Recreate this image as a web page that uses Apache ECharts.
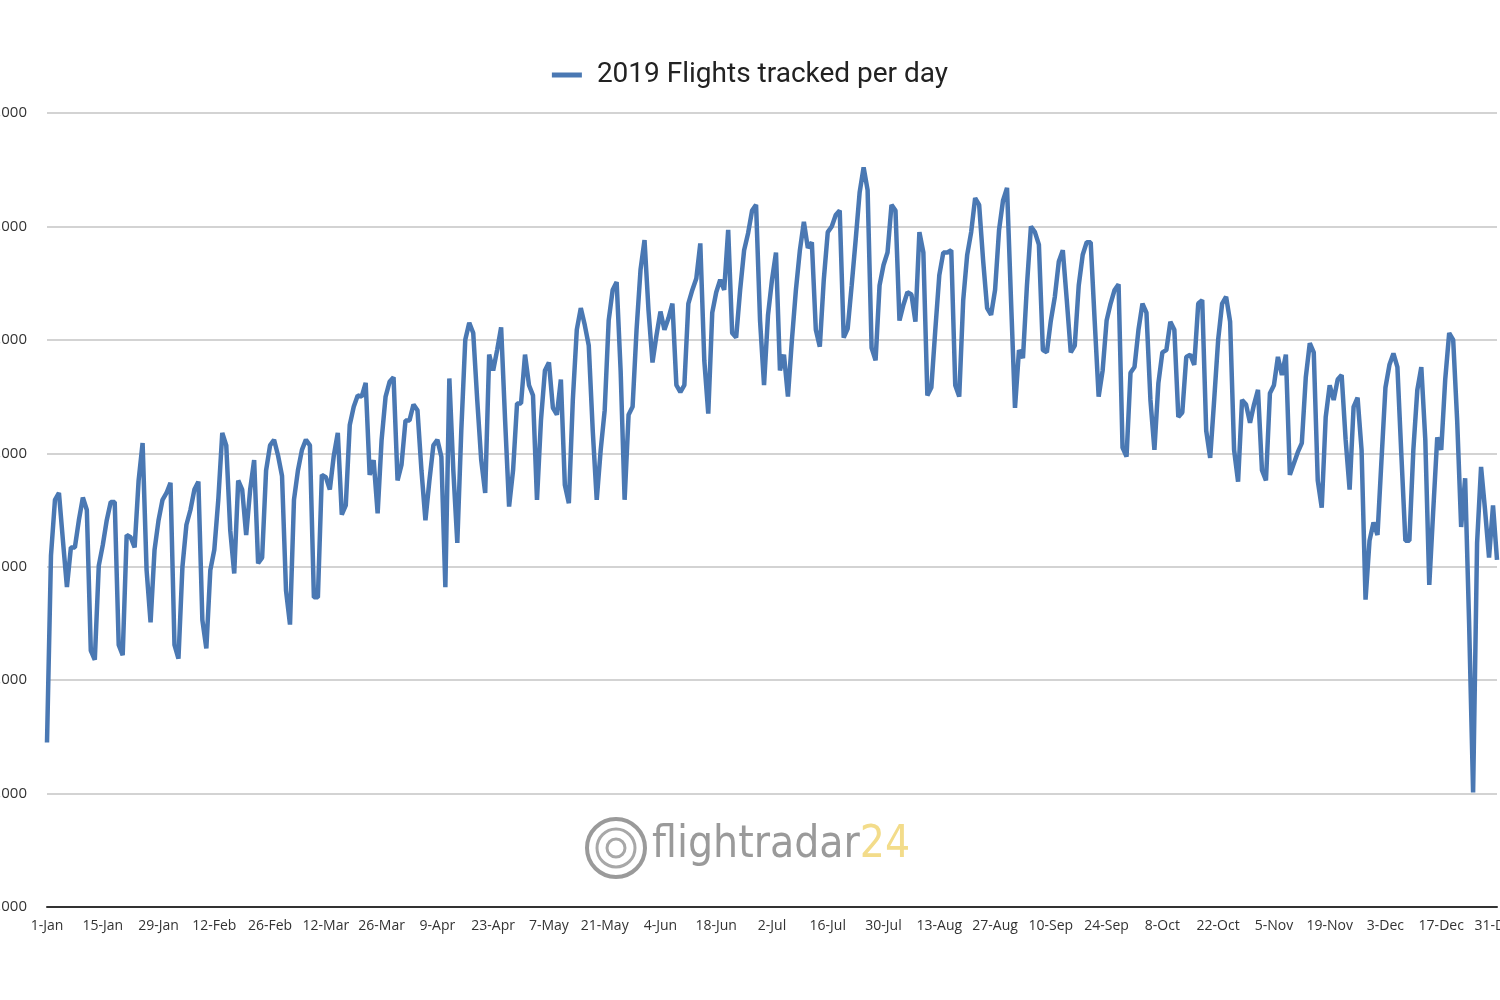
<!DOCTYPE html>
<html>
<head>
<meta charset="utf-8">
<title>2019 Flights tracked per day</title>
<script src="https://cdn.jsdelivr.net/npm/echarts@6/dist/echarts.min.js"></script>
<style>
  html, body { margin: 0; padding: 0; background: #fff; }
  #chart { width: 1500px; height: 1000px; }
</style>
</head>
<body>
<div id="chart"></div>
<script>
// 月份和天数
const monthNames = ['Jan', 'Feb', 'Mar', 'Apr', 'May', 'Jun', 'Jul', 'Aug', 'Sep', 'Oct', 'Nov', 'Dec'];
const monthDays = [31, 28, 31, 30, 31, 30, 31, 31, 30, 31, 30, 31];

// 每日航班数（按月）
const jan = [174500, 191000, 195900, 196500, 192300, 188200, 191700, 191700, 194100, 196100, 195000, 182600, 181800, 190100, 191900, 194100, 195700, 195700, 183100, 182200, 192800, 192600, 191700, 197600, 200900, 189700, 185100, 191500, 194100, 195900, 196500];
const feb = [197400, 183100, 181900, 190000, 193700, 195000, 196800, 197500, 185300, 182800, 189700, 191500, 195900, 201800, 200700, 193200, 189400, 197600, 196800, 192800, 196800, 199400, 190300, 190800, 198500, 200700, 201200, 199800];
const mar = [198000, 187900, 184900, 195900, 198500, 200300, 201200, 200700, 187300, 187300, 198100, 197900, 196800, 199800, 201800, 194600, 195400, 202500, 204100, 205100, 205000, 206200, 198100, 199400, 194700, 201200, 205000, 206300, 206700, 197600, 199000];
const apr = [202900, 202900, 204300, 203800, 198500, 194100, 197600, 200700, 201200, 199700, 188200, 206600, 198500, 192100, 202000, 210000, 211500, 210600, 204700, 199400, 196500, 208700, 207300, 209100, 211100, 202900, 195300, 198500, 204400, 204400];
const may = [208700, 206000, 205100, 195900, 202900, 207300, 208000, 204000, 203400, 206500, 197200, 195600, 204700, 210900, 212800, 211300, 209500, 202000, 195900, 200300, 203800, 211700, 214400, 215100, 207300, 195900, 203400, 204100, 210900, 216200, 218800];
const jun = [212600, 208000, 210400, 212500, 210900, 211900, 213200, 206000, 205400, 206000, 213200, 214400, 215400, 218500, 208200, 203500, 212400, 214200, 215300, 214400, 219700, 210600, 210200, 214400, 217900, 219400, 221400, 221900, 211700, 206000];
const jul = [212200, 215300, 217700, 207300, 208700, 205000, 210000, 214400, 217900, 220400, 218100, 218600, 210900, 209400, 215300, 219500, 220000, 221000, 221400, 210200, 211000, 214800, 218800, 223000, 225200, 223200, 209300, 208200, 214800, 216600, 217700];
const aug = [221900, 221400, 211700, 213100, 214200, 214000, 211600, 219500, 217700, 205100, 205800, 210900, 215700, 217700, 217700, 217900, 206000, 205000, 213500, 217500, 219500, 222500, 221900, 217000, 212800, 212200, 214400, 219700, 222300, 223400, 213500];
const sep = [204000, 209100, 208400, 214800, 220000, 219500, 218400, 209100, 208900, 211700, 213800, 216900, 217900, 213500, 208900, 209500, 214800, 217500, 218600, 218600, 211700, 205000, 207300, 211700, 213200, 214400, 214900, 200500, 199700, 207100];
const oct = [207600, 210900, 213200, 212400, 204700, 200300, 206200, 208900, 209100, 211600, 210900, 203200, 203600, 208500, 208700, 207800, 213200, 213500, 202000, 199600, 204700, 210000, 213200, 213800, 211600, 200300, 197500, 204700, 204300, 202700, 204300];
const nov = [205600, 198500, 197600, 205300, 206000, 208500, 206900, 208700, 198100, 199100, 200100, 200900, 206700, 209700, 208900, 197600, 195200, 203200, 206000, 204700, 206500, 206900, 201200, 196800, 204100, 204900, 200300, 187100, 192300, 193900];
const dec = [192800, 199400, 205800, 207800, 208800, 207600, 199800, 192300, 192300, 200300, 205600, 207600, 201200, 188400, 195000, 201400, 200300, 206500, 210600, 210000, 202900, 193500, 197800, 185000, 170100, 192100, 198800, 195000, 190800, 195400, 190600];

const flights = [].concat(jan, feb, mar, apr, may, jun, jul, aug, sep, oct, nov, dec);

// 日期标签 1-Jan ... 31-Dec
const days = [];
monthNames.forEach((m, i) => {
    for (let d = 1; d <= monthDays[i]; d++) {
        days.push(d + '-' + m);
    }
});

const chart = echarts.init(document.getElementById('chart'));

const option = {
    backgroundColor: '#ffffff',
    animation: false,
    legend: {
        top: 56,
        left: 'center',
        icon: 'rect',
        itemWidth: 30,
        itemHeight: 5,
        textStyle: {
            fontFamily: 'Roboto',
            fontSize: 28,
            color: '#222',
            padding: [0, 0, 0, 10]
        },
        data: ['2019 Flights tracked per day']
    },
    grid: {
        left: 47,
        right: 3,
        top: 113,
        bottom: 93,
        containLabel: false,
        outerBoundsMode: 'none'
    },
    xAxis: {
        type: 'category',
        data: days,
        boundaryGap: false,
        axisLine: { lineStyle: { color: '#333', width: 2 } },
        axisTick: { show: false },
        axisLabel: {
            interval: 13,
            margin: 12,
            fontFamily: 'Open Sans',
            fontSize: 14,
            color: '#333',
            hideOverlap: false
        },
        splitLine: { show: false }
    },
    yAxis: {
        type: 'value',
        min: 160000,
        max: 230000,
        interval: 10000,
        axisLine: { show: false },
        axisTick: { show: false },
        axisLabel: {
            margin: 20,
            fontFamily: 'Open Sans',
            fontSize: 15,
            color: '#333'
        },
        splitLine: { lineStyle: { color: '#c4c4c4', width: 1.5 } }
    },
    graphic: [
        {
            type: 'circle',
            shape: { cx: 616, cy: 848, r: 29 },
            style: { fill: 'none', stroke: '#9a9a9a', lineWidth: 4 }
        },
        {
            type: 'circle',
            shape: { cx: 616, cy: 848, r: 19 },
            style: { fill: 'none', stroke: '#a8a8a8', lineWidth: 3 }
        },
        {
            type: 'circle',
            shape: { cx: 616, cy: 848, r: 9 },
            style: { fill: 'none', stroke: '#a8a8a8', lineWidth: 3 }
        },
        {
            type: 'text',
            left: 652,
            top: 824,
            style: {
                text: '{a|flightradar}{b|24}',
                rich: {
                    a: { fontFamily: 'DejaVu Sans Condensed', fontSize: 44, fill: '#9a9a9a' },
                    b: { fontFamily: 'DejaVu Sans Condensed', fontSize: 44, fill: '#f3dc8a' }
                }
            }
        }
    ],
    series: [{
        name: '2019 Flights tracked per day',
        type: 'line',
        data: flights,
        showSymbol: false,
        symbol: 'none',
        itemStyle: { color: '#4a78b3' },
        lineStyle: { color: '#4a78b3', width: 4.5 }
    }]
};

chart.setOption(option);
</script>
</body>
</html>
